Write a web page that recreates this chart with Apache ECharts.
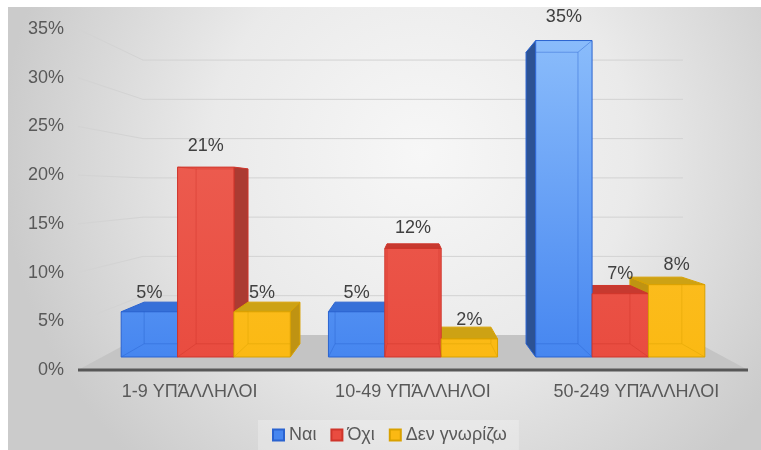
<!DOCTYPE html>
<html>
<head>
<meta charset="utf-8">
<script src="https://cdn.jsdelivr.net/npm/echarts@6/dist/echarts.min.js"></script>
<style>
html, body { margin: 0; padding: 0; background: #ffffff; }
#chart { width: 761px; height: 450px; }
</style>
</head>
<body>
<div id="chart"></div>
<script>
// Survey answers by company size (percent of respondents)
const categories = ['1-9 ΥΠΆΛΛΗΛΟΙ', '10-49 ΥΠΆΛΛΗΛΟΙ', '50-249 ΥΠΆΛΛΗΛΟΙ'];
const seriesNames = ['Ναι', 'Όχι', 'Δεν γνωρίζω'];
const naiValues = [5, 5, 35];
const oxiValues = [21, 12, 7];
const denValues = [5, 2, 8];
const yTicks = [0, 5, 10, 15, 20, 25, 30, 35];

const seriesValues = [naiValues, oxiValues, denValues];

// Perspective set-up for the pseudo-3D columns
const FONT = '"Liberation Sans", Arial, sans-serif';
const HORIZON = 0.47;      // vanishing point height as a fraction of the plot
const S_WALL = 0.806;      // scale of the back wall plane
const S_FRONT = 0.928;     // scale of the columns' front faces
const S_BACK = 0.855;      // scale of the columns' back faces
const S_LABEL = 0.942;     // plane the value labels hang from
const LABEL_LIFT = 21;
const BAR_FRAC = 0.272;    // column width as a share of a category band

const shades = [
  { front: ['#8abcfb', '#4686f0'], top: '#3670d8', side: '#2c5294', edge: '#2a63d0' },
  { front: ['#ee6457', '#e94c40'], top: '#c7392f', side: '#ab3b32', edge: '#cf352b' },
  { front: ['#fdc53a', '#fbb913'], top: '#cda214', side: '#bf9312', edge: '#d9a100' }
];

function projector(cs) {
  const vx = cs.x + cs.width / 2;
  const vy = cs.y + cs.height * HORIZON;
  return (x, y, s) => [vx + s * (x - vx), vy + s * (y - vy)];
}

// Liang-Barsky clipping of segment p-q to an axis-aligned box
function clipSegment(p, q, box) {
  let t0 = 0, t1 = 1;
  const dx = q[0] - p[0], dy = q[1] - p[1];
  const checks = [
    [-dx, p[0] - box.x0], [dx, box.x1 - p[0]],
    [-dy, p[1] - box.y0], [dy, box.y1 - p[1]]
  ];
  for (const [pp, qq] of checks) {
    if (pp === 0) {
      if (qq < 0) return null;
    } else {
      const t = qq / pp;
      if (pp < 0) { if (t > t1) return null; if (t > t0) t0 = t; }
      else { if (t < t0) return null; if (t < t1) t1 = t; }
    }
  }
  if (t1 - t0 < 1e-6) return null;
  return [[p[0] + t0 * dx, p[1] + t0 * dy], [p[0] + t1 * dx, p[1] + t1 * dy]];
}

function barRenderer(si) {
  return function (params, api) {
    const cs = params.coordSys;
    const proj = projector(cs);
    const ci = api.value(0);
    const val = api.value(1);
    const base = api.coord([ci, 0]);
    const tip = api.coord([ci, val]);
    const topTick = api.coord([ci, yTicks[yTicks.length - 1]]);
    const band = api.size([1, 0])[0];
    const w = band * BAR_FRAC;
    const xL = base[0] - 1.5 * w + si * w;
    const xR = xL + w;
    const y0 = base[1];
    const y1 = tip[1];

    const fLT = proj(xL, y1, S_FRONT), fRT = proj(xR, y1, S_FRONT);
    const fRB = proj(xR, y0, S_FRONT), fLB = proj(xL, y0, S_FRONT);
    const bLT = proj(xL, y1, S_BACK), bRT = proj(xR, y1, S_BACK);
    const bRB = proj(xR, y0, S_BACK), bLB = proj(xL, y0, S_BACK);
    const sh = shades[si];
    const children = [];

    // side face turned towards the viewer
    if (bRT[0] > fRT[0] + 0.3) {
      children.push({ type: 'polygon', z2: 10, shape: { points: [fRT, bRT, bRB, fRB] },
        style: { fill: sh.side, stroke: sh.edge, lineWidth: 1 } });
    }
    if (bLT[0] < fLT[0] - 0.3) {
      children.push({ type: 'polygon', z2: 10, shape: { points: [fLT, bLT, bLB, fLB] },
        style: { fill: sh.side, stroke: sh.edge, lineWidth: 1 } });
    }
    // top face, seen only below the horizon
    if (bLT[1] < fLT[1]) {
      children.push({ type: 'polygon', z2: 20 + val * 0.1, shape: { points: [fLT, fRT, bRT, bLT] },
        style: { fill: sh.top, stroke: sh.edge, lineWidth: 1 } });
    }
    // front face
    const grad = new echarts.graphic.LinearGradient(0, proj(0, topTick[1], S_FRONT)[1], 0, fLB[1],
      [{ offset: 0, color: sh.front[0] }, { offset: 1, color: sh.front[1] }], true);
    children.push({ type: 'polygon', z2: 100, shape: { points: [fLT, fRT, fRB, fLB] },
      style: { fill: grad, stroke: sh.edge, lineWidth: 1 } });
    // hidden edges showing through the translucent front face
    const box = { x0: fLT[0], x1: fRT[0], y0: Math.min(fLT[1], fLB[1]), y1: Math.max(fLT[1], fLB[1]) };
    const edges = [
      [bLT, bRT], [bRT, bRB], [bRB, bLB], [bLB, bLT],
      [fLB, bLB], [fRB, bRB], [fLT, bLT], [fRT, bRT]
    ];
    edges.forEach(([p, q]) => {
      const seg = clipSegment(p, q, box);
      if (!seg) return;
      children.push({ type: 'line', z2: 110,
        shape: { x1: seg[0][0], y1: seg[0][1], x2: seg[1][0], y2: seg[1][1] },
        style: { stroke: sh.edge, lineWidth: 1, opacity: 0.45 } });
    });
    // value label
    children.push({ type: 'text', z2: 200,
      x: (fLT[0] + fRT[0]) / 2,
      y: proj(xL, y1, S_LABEL)[1] - LABEL_LIFT,
      style: { text: val + '%', fill: '#404040', font: '18px ' + FONT, align: 'center', verticalAlign: 'middle' } });
    return { type: 'group', children: children };
  };
}

function wallRenderer(params, api) {
  const cs = params.coordSys;
  const proj = projector(cs);
  const xl = cs.x, xr = cs.x + cs.width;
  const children = [];
  yTicks.forEach(t => {
    if (t === 0) return;
    const y = api.coord([0, t])[1];
    children.push({ type: 'polyline', shape: { points: [[xl, y], proj(xl, y, S_WALL), proj(xr, y, S_WALL)] },
      style: { fill: null, stroke: '#d3d3d3', lineWidth: 1 } });
  });
  const y0 = api.coord([0, 0])[1];
  children.push({ type: 'polygon', shape: { points: [[xl, y0], [xr, y0], proj(xr, y0, S_WALL), proj(xl, y0, S_WALL)] },
    style: { fill: '#c4c4c4' } });
  children.push({ type: 'line', shape: { x1: xl, y1: y0, x2: xr, y2: y0 },
    style: { stroke: '#575757', lineWidth: 3 } });
  return { type: 'group', children: children };
}

const chart = echarts.init(document.getElementById('chart'), null, { renderer: 'canvas' });

const series = seriesNames.map((name, si) => ({
  type: 'custom',
  name: name,
  z: 2,
  itemStyle: { color: shades[si].front[1], borderColor: shades[si].edge, borderWidth: 1 },
  encode: { x: 0, y: 1 },
  data: seriesValues[si].map((v, ci) => [ci, v]),
  renderItem: barRenderer(si)
}));
series.push({
  type: 'custom',
  name: 'walls',
  z: 1,
  silent: true,
  encode: { x: 0, y: 1 },
  data: [[0, 0]],
  renderItem: wallRenderer
});

chart.setOption({
  animation: false,
  textStyle: { fontFamily: FONT },
  graphic: [{
    type: 'rect', z: -10, silent: true,
    shape: { x: 8, y: 7, width: 753, height: 443 },
    style: {
      fill: new echarts.graphic.RadialGradient(0.55, 0.33, 0.95, [
        { offset: 0, color: '#f7f7f7' },
        { offset: 0.5, color: '#eaeaea' },
        { offset: 1, color: '#cbcbcb' }
      ])
    }
  }],
  grid: { left: 78, right: 13, top: 29, bottom: 80 },
  legend: {
    data: seriesNames,
    left: 258,
    top: 420,
    padding: [6, 12, 6, 14],
    itemWidth: 11,
    itemHeight: 11,
    itemGap: 14,
    icon: 'rect',
    backgroundColor: 'rgba(255,255,255,0.25)',
    textStyle: { fontSize: 18, color: '#595959', fontFamily: FONT }
  },
  xAxis: {
    type: 'category',
    data: categories,
    axisLine: { show: false },
    axisTick: { show: false },
    splitLine: { show: false },
    axisLabel: { fontSize: 18, color: '#595959', margin: 13, fontFamily: FONT }
  },
  yAxis: {
    type: 'value',
    min: 0,
    max: 35,
    interval: 5,
    axisLine: { show: false },
    axisTick: { show: false },
    splitLine: { show: false },
    axisLabel: { formatter: '{value}%', fontSize: 18, color: '#595959', margin: 14, fontFamily: FONT }
  },
  series: series
});
</script>
</body>
</html>
